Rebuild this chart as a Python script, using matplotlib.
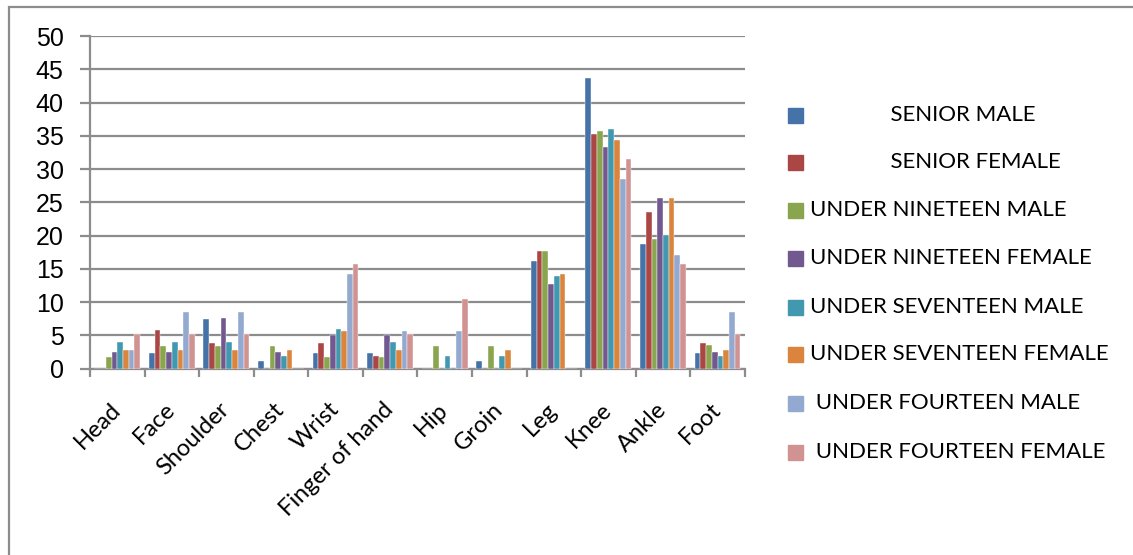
import numpy as np
import matplotlib.pyplot as plt
from matplotlib.patches import Rectangle

# injury sites on the x axis
sites = ['Head', 'Face', 'Shoulder', 'Chest', 'Wrist', 'Finger of hand',
         'Hip', 'Groin', 'Leg', 'Knee', 'Ankle', 'Foot']

# one list per group (percent of injuries)
senior_male = [0, 2.4, 7.4, 1.2, 2.4, 2.4, 0, 1.2, 16.1, 43.7, 18.7, 2.4]
senior_female = [0, 5.8, 3.85, 0, 3.85, 1.85, 0, 0, 17.6, 35.3, 23.5, 3.9]
u19_male = [1.75, 3.45, 3.45, 3.45, 1.75, 1.75, 3.45, 3.45, 17.75, 35.7, 19.5, 3.5]
u19_female = [2.5, 2.5, 7.65, 2.5, 5.0, 5.0, 0, 0, 12.7, 33.3, 25.7, 2.5]
u17_male = [3.95, 3.95, 3.95, 1.95, 5.9, 3.95, 1.95, 1.95, 13.95, 36.0, 20.1, 1.95]
u17_female = [2.8, 2.8, 2.8, 2.8, 5.6, 2.8, 0, 2.8, 14.25, 34.4, 25.7, 2.8]
u14_male = [2.8, 8.45, 8.45, 0, 14.2, 5.6, 5.6, 0, 0, 28.55, 17.05, 8.5]
u14_female = [5.2, 5.2, 5.2, 0, 15.65, 5.2, 10.5, 0, 0, 31.55, 15.75, 5.25]

series_names = ['              SENIOR MALE', '              SENIOR FEMALE',
                'UNDER NINETEEN MALE', 'UNDER NINETEEN FEMALE',
                'UNDER SEVENTEEN MALE', 'UNDER SEVENTEEN FEMALE',
                ' UNDER FOURTEEN MALE', ' UNDER FOURTEEN FEMALE']

series = [senior_male, senior_female, u19_male, u19_female,
          u17_male, u17_female, u14_male, u14_female]
colors = ['#4572A7', '#AA4643', '#89A54E', '#71588F',
          '#4198AF', '#DB843D', '#93A9CF', '#D19392']

fig = plt.figure(figsize=(11.33, 5.55), dpi=100)
ax = fig.add_axes([0.0794, 0.336, 0.578, 0.599])

# outer chart frame (cut off at right and bottom like the original)
fig.add_artist(Rectangle((9 / 1133, -0.05), 1.2, 1 - 7 / 555 + 0.05,
                         transform=fig.transFigure, fill=False,
                         edgecolor='#8c8c8c', linewidth=1.6))

x = np.arange(len(sites))
w = 0.105
for i, (vals, c) in enumerate(zip(series, colors)):
    ax.bar(x + (i - 3.5) * w, vals, width=w, color=c,
           edgecolor='white', linewidth=0.3, zorder=3)

ax.set_xlim(-0.5, len(sites) - 0.5)
ax.set_ylim(0, 50)
ax.set_yticks(range(0, 51, 5))
ax.yaxis.grid(True, color='#8c8c8c', linewidth=1.6, zorder=0)
ax.set_axisbelow(True)

for s in ['top', 'right']:
    ax.spines[s].set_visible(False)
for s in ['left', 'bottom']:
    ax.spines[s].set_color('#8c8c8c')
    ax.spines[s].set_linewidth(1.6)

ax.set_xticks(np.arange(len(sites) + 1) - 0.5, minor=False)
ax.set_xticklabels([])
ax.set_xticks(x, minor=True)
ax.set_xticklabels(sites, minor=True, rotation=45, ha='right', va='center',
                   rotation_mode='anchor', fontsize=17, family=['Lato', 'DejaVu Sans'])
ax.tick_params(axis='x', which='minor', length=0, pad=27)
ax.tick_params(axis='x', which='major', length=6, width=1.6, color='#8c8c8c')
ax.tick_params(axis='y', length=7, width=1.6, color='#8c8c8c', pad=12,
               labelsize=18)
for t in ax.get_yticklabels():
    t.set_family(['Liberation Sans', 'DejaVu Sans'])

# legend drawn by hand at the right side
leg_y = [115, 162, 210, 258, 307, 354, 403, 452]
for name, c, yy in zip(series_names, colors, leg_y):
    fig.add_artist(Rectangle((788 / 1133, 1 - (yy + 7.5) / 555), 15 / 1133, 15 / 555,
                             transform=fig.transFigure, color=c))
    fig.text(810 / 1133, 1 - yy / 555, name, fontsize=16, va='center',
             family=['Lato', 'DejaVu Sans'])

fig.savefig('out.png', dpi=100)
